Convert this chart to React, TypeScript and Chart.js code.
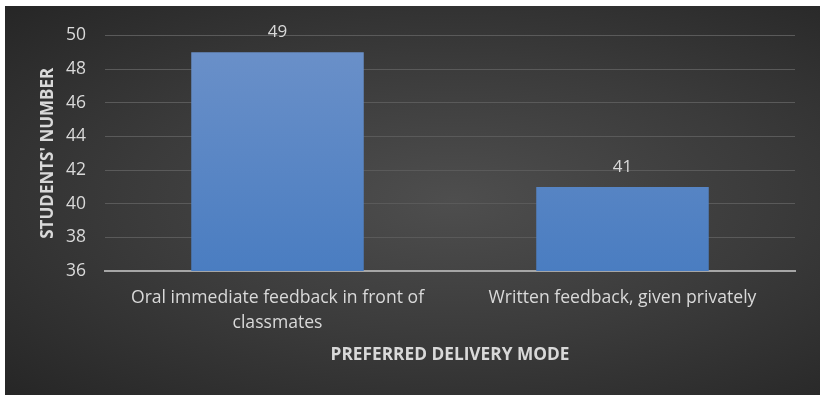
import React, { useEffect, useRef } from "react";
import { Chart, registerables } from "chart.js";

Chart.register(...registerables);

const categories: (string | string[])[] = [
  ["Oral immediate feedback in front of", "classmates"],
  "Written feedback, given privately",
];
const values: number[] = [49, 41];
const yMin = 36;
const yMax = 50;
const yStep = 2;
const yTitle = "STUDENTS' NUMBER";
const xTitle = "PREFERRED DELIVERY MODE";

const FONT = "'Open Sans', 'DejaVu Sans', sans-serif";
const TEXT = "#d9d9d9";

const labelPlugin = {
  id: "barLabels",
  afterDatasetsDraw(chart: any) {
    const ctx = chart.ctx;
    const meta = chart.getDatasetMeta(0);
    ctx.save();
    ctx.fillStyle = TEXT;
    ctx.font = `17px ${FONT}`;
    ctx.textAlign = "center";
    ctx.textBaseline = "middle";
    meta.data.forEach((bar: any, i: number) => {
      ctx.fillText(String(values[i]), bar.x, bar.y - 20);
    });
    ctx.restore();
  },
};

export default function App() {
  const ref = useRef<HTMLCanvasElement>(null);
  useEffect(() => {
    const canvas = ref.current!;
    const chart = new Chart(canvas, {
      type: "bar",
      data: {
        labels: categories,
        datasets: [
          {
            data: values,
            backgroundColor: (c: any) => {
              const area = c.chart.chartArea;
              if (!area) return "#5b87c5";
              const g = c.chart.ctx.createLinearGradient(0, area.top, 0, area.bottom);
              g.addColorStop(0, "#6c91c9");
              g.addColorStop(1, "#4a7dc1");
              return g;
            },
            borderWidth: 0,
            barPercentage: 0.5,
            categoryPercentage: 1,
          },
        ],
      },
      options: {
        animation: false,
        responsive: false,
        maintainAspectRatio: false,
        layout: { padding: { top: 25, right: 25, bottom: 0, left: 0 } },
        plugins: {
          legend: { display: false },
          tooltip: { enabled: false },
        },
        scales: {
          x: {
            grid: { display: false, drawTicks: false },
            border: { display: true, color: "#a6a6a6", width: 2 },
            ticks: {
              color: TEXT,
              font: { family: FONT, size: 17.6, lineHeight: 1.42 },
              padding: 14,
              maxRotation: 0,
              autoSkip: false,
            },
            title: {
              display: true,
              text: xTitle,
              color: TEXT,
              font: { family: FONT, size: 17.3, weight: "bold" },
              padding: { top: 0, bottom: 30 },
            },
            afterFit: (s: any) => {
              s.height = 124;
            },
          },
          y: {
            min: yMin,
            max: yMax,
            grid: { color: "#5a5a5a", lineWidth: 1, drawTicks: false },
            border: { display: false },
            ticks: {
              stepSize: yStep,
              color: TEXT,
              font: { family: FONT, size: 17.5 },
              padding: 19,
            },
            title: {
              display: true,
              text: yTitle,
              color: TEXT,
              font: { family: FONT, size: 17, weight: "bold" },
              padding: { top: 33, bottom: 0 },
            },
            afterFit: (s: any) => {
              s.width = 100;
            },
          },
        },
      },
      plugins: [labelPlugin],
    } as any);
    return () => chart.destroy();
  }, []);
  return (
    <div
      style={{
        position: "absolute",
        left: 5,
        top: 6,
        width: 815,
        height: 389,
        background: "radial-gradient(ellipse at 55% 50%, #4e4e4e 0%, #3b3b3b 50%, #262626 100%)",
      }}
    >
      <canvas ref={ref} width={815} height={389} style={{ display: "block" }} />
    </div>
  );
}
